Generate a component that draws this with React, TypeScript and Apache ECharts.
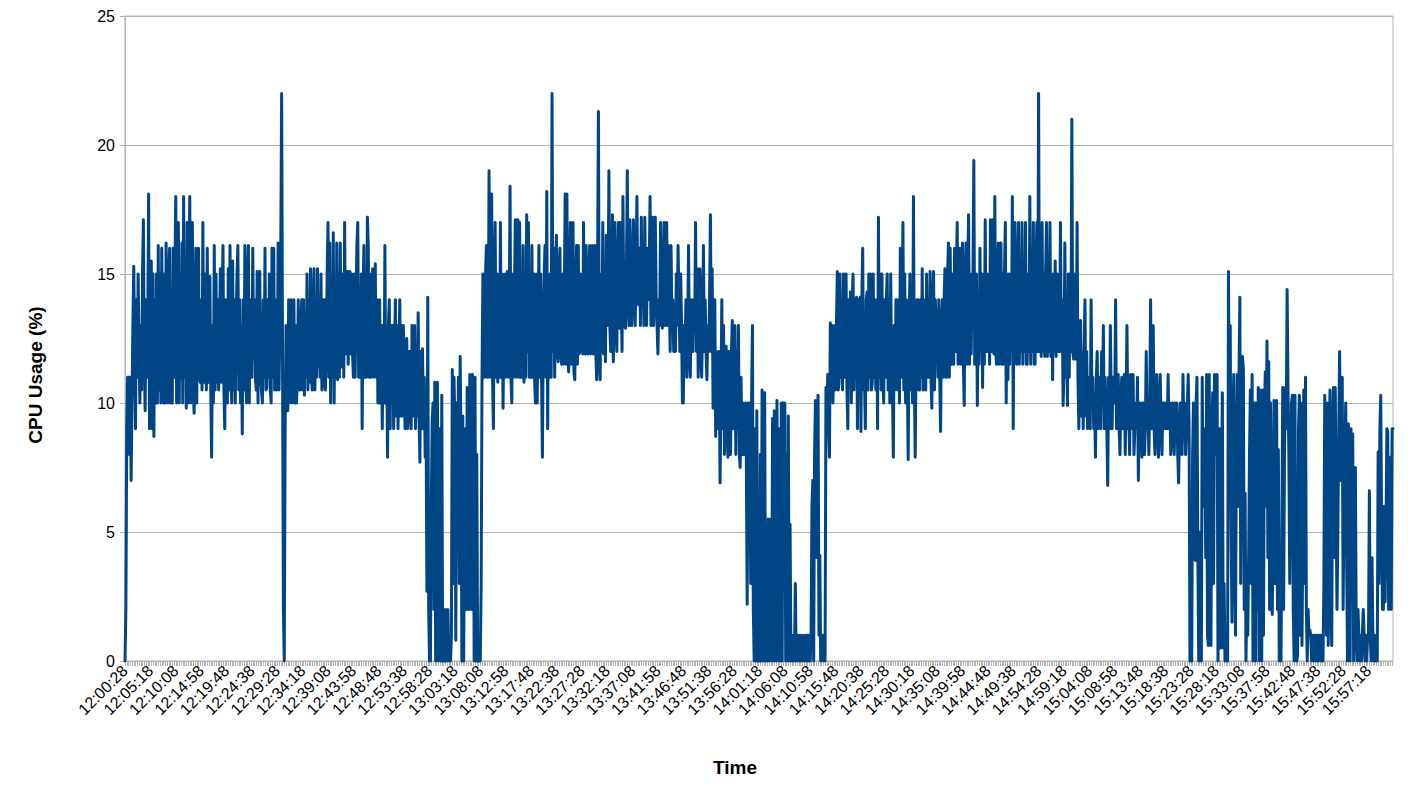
import React, { useEffect, useRef } from "react";
import * as echarts from "echarts";

// Sampling clock of the log: one sample every 10 s, a label every 29 samples
const START_TIME = "12:00:28";
const SAMPLE_STEP_S = 10;
const LABEL_EVERY = 29;

// CPU usage (%), one block per ~48 minutes (290 samples each)
const cpu12_00 = [
  0, 2, 9, 11, 11, 8, 11, 7, 10, 13, 15.3, 12, 9, 14, 11, 15, 12, 10, 13, 10.5, 15, 17.1, 12, 9.7, 14, 11, 13, 18.1, 9,
  10, 15.5, 9, 15, 8.7, 14, 10, 15, 10, 16.1, 10.5, 15, 10, 16, 11, 10, 15, 10, 16.2, 11, 10, 15, 16, 10, 14, 10, 16, 11, 15,
  18, 10, 14, 17, 10, 15, 11, 16.2, 10, 18, 11, 15, 9.8, 17, 10, 14, 18, 10, 15, 17, 10.5, 9.6, 14, 16, 10, 15, 16, 11, 10.8,
  14, 10.5, 17, 11, 10.8, 15, 10.5, 16, 11, 10.8, 14.9, 10.5, 7.9, 13, 10, 16.1, 10.5, 15, 10.8, 14, 10.5, 13, 15.2, 10.8, 14, 16.1, 10.5, 9, 14,
  11, 10, 15.2, 10.5, 16.1, 11, 10, 15.5, 10.5, 14, 10, 13, 15, 16.1, 10.5, 14, 10, 13, 8.8, 14, 10.5, 16.1, 11, 10, 15, 16.1, 10, 14, 11.7,
  11, 16, 11.7, 14, 11, 10.5, 15.1, 10, 14, 15.1, 11, 10.5, 10, 14, 11, 16, 10.5, 10.6, 14, 11, 15, 10.5, 10, 16, 11, 16, 10.5, 14, 10.5,
  11, 16.2, 10.5, 13, 16, 22, 12, 2, 0, 9, 13, 10, 9.7, 14, 10, 10.5, 14, 10, 11, 14, 10, 13, 10, 11, 14, 10.8, 10.5, 13, 14,
  10.5, 14, 10.3, 13, 11, 15, 10.5, 14, 10.8, 15.2, 11, 10.5, 14, 15.2, 10.5, 14, 11, 15.2, 11.4, 14, 11, 15, 10.5, 10.8, 14, 14, 10.5, 12, 15,
  17, 11, 16.2, 10, 14, 11, 16.6, 10, 14, 11, 16.2, 10.9, 15, 11, 16.2, 11.4, 14, 15, 11, 17, 11.9, 15, 15.1, 11.5, 14, 15.1, 11.9, 15, 12,
  11, 15, 11, 14, 16.1, 17, 11, 14, 11, 15, 9, 14, 16.1, 11, 15, 11, 17.2, 16.1, 11, 15, 11, 14, 15.2, 11, 11.5, 15.4, 11, 14, 10,
];
const cpu12_48 = [
  10, 14, 10, 13, 9, 13, 10, 16.1, 10, 12, 7.9, 13, 14, 9, 13, 10, 13, 9, 12, 14, 9.5, 13, 9, 12, 14, 9.5, 13, 9.5, 13,
  12, 9, 12, 12.5, 9, 12, 12, 9.5, 9, 13, 10, 9.5, 13, 9, 12, 9.5, 13.5, 9.5, 7.7, 12, 9, 12.1, 9, 11, 7.9, 10, 2.7, 14.1, 2,
  0, 0, 6, 9.3, 10, 2, 10.8, 0, 8, 10.8, 0, 5, 9, 0, 10.3, 0, 1, 0, 2, 0, 1, 2, 0, 1, 0, 1, 11.3, 3, 11,
  9, 0.8, 10, 5, 11, 3, 11.8, 8, 0, 9.5, 0, 6, 9, 2, 10.6, 4, 2, 11.1, 6, 2, 11.1, 9, 0, 11, 0, 8, 0, 0, 0,
  0, 3, 11.1, 15, 11, 11, 15, 16.1, 11, 11, 19, 12, 11, 18.1, 11, 9, 15, 17, 11, 15, 10.8, 15, 11, 17, 11, 15, 9.8, 13, 15,
  11, 14, 15.1, 11, 13, 18.4, 11, 10, 15, 11, 14, 17.1, 11, 15, 17.1, 11, 17, 11, 15, 11, 16.1, 10.8, 15, 11, 17.3, 12, 17, 11, 15,
  11, 16.1, 11, 15, 11, 10, 15, 10, 13, 16.1, 11, 15, 11, 7.9, 13, 15, 16.1, 11, 18.2, 9, 15, 11, 15, 11, 22, 12, 16, 11, 15,
  16.5, 12, 11.6, 15, 16, 12, 11.5, 15, 11.5, 14, 18.1, 11.5, 18.1, 12, 11.2, 15, 17, 11.5, 14, 17, 11.2, 10.9, 14, 16.1, 11.5, 16.1, 11.9, 15, 12,
  15, 11.9, 17, 12, 11.9, 16.1, 12, 11.9, 15, 16.1, 11.9, 14, 16.1, 11.9, 15, 16.1, 12, 10.9, 15, 21.3, 11.5, 10.9, 15, 12, 17, 11.9, 15, 11.6, 16.5,
  13, 14, 19, 13, 12, 14, 17.3, 11.6, 14, 17, 13, 12, 15, 17, 12.9, 17, 14, 12, 18, 14, 13, 12.9, 15, 19, 14, 13, 17.1, 14, 13,
];
const cpu13_37 = [
  15, 17.1, 14, 13, 15, 18, 14, 13.8, 16, 13, 17.2, 14, 15, 13, 17.2, 14, 13, 16, 14, 15, 18, 13, 14, 17.2, 13, 15, 17.2, 14, 13,
  11.9, 14, 13, 17, 15, 12.9, 14, 17, 13, 15, 17, 13, 16.1, 14, 12, 16.1, 13, 14, 12, 13, 12, 15, 13, 16.1, 14, 12, 15, 13, 10,
  10, 13, 12, 14, 11, 13, 16.1, 12, 11, 14, 13, 12, 14, 13, 17, 12, 15.2, 11, 13, 15.2, 12, 11, 13, 16.1, 12, 14, 12, 10.9, 13,
  12, 14, 17.3, 12, 15.2, 9.8, 13, 14, 8.7, 12, 11, 9, 12, 6.9, 10, 14, 9, 13, 8, 11, 12.2, 9, 7.9, 12, 10, 8, 12, 13.2, 9,
  10, 13, 8, 12, 9, 13, 8, 7.5, 11, 8, 10, 8, 9, 10, 8, 2.2, 10, 9, 10, 3, 10, 13, 2, 0, 9, 0, 9.7, 0, 5,
  0, 8, 0, 10.5, 2, 0, 10.4, 0, 3, 0, 5.5, 0, 1, 5.5, 0, 9.4, 0, 9.7, 2, 0, 10.1, 4, 0, 9, 0, 10, 0, 10, 3,
  10, 0, 8, 0, 9.5, 0, 5.3, 0, 1, 0, 1, 0, 3, 0, 1, 0, 1, 0, 1, 0, 0, 1, 0, 0, 1, 0, 1, 0, 1,
  0, 1, 6, 7, 0, 8, 10.1, 4, 9, 10.3, 1, 4.1, 0, 1, 1, 0, 1, 0, 10.6, 9, 11.1, 9, 7.9, 13.1, 11, 13, 10, 12, 13,
  10.5, 13, 15.1, 10.5, 10.8, 15, 11, 14, 10.5, 15, 11, 14, 15, 10.5, 9, 14, 11, 14.3, 10, 14, 15, 10.5, 14, 11, 14.1, 9, 14, 10.5, 14.1,
  8.9, 14, 16, 10.5, 11, 9, 14, 14.3, 10.5, 15, 11, 15, 10.5, 10.8, 15, 11, 14, 10.5, 14, 9, 17.2, 11, 15, 10.5, 15, 11, 10, 14, 11,
];
const cpu14_25 = [
  14, 15, 10.5, 14, 10, 15, 11, 10.5, 7.9, 13, 10.5, 14, 14, 10.5, 14, 10, 16, 11, 14, 17, 10.5, 15, 10, 14, 11, 7.8, 13, 15, 10.5,
  14, 10, 18, 11, 7.9, 12, 14, 14, 10.5, 10.5, 14, 11, 15.2, 10.5, 14, 11, 10.5, 15, 11, 14, 11, 15.1, 11, 9.8, 14, 15.1, 10.5, 14, 13,
  13, 11, 14, 11, 8.9, 13, 14, 11, 14, 15.2, 11, 11, 15, 16.2, 11, 16, 11.5, 11.5, 15, 11.5, 16, 12, 15, 17, 11.5, 15, 16, 11.5, 15,
  16.2, 11.5, 9.9, 15, 16.2, 11.5, 15, 17.3, 11.5, 15, 11.9, 15, 15, 19.4, 11.5, 12, 15, 9.9, 14, 11.5, 16, 12, 15, 10.6, 15, 11.5, 17.1, 12, 15,
  12, 15, 11.5, 17.1, 12, 15, 17.1, 11.9, 18, 12, 11.5, 15, 16.2, 11.5, 15, 16.2, 11.5, 15, 11.5, 15, 17, 10, 15, 10.9, 15, 11.5, 15, 12, 18,
  9, 15, 17, 12, 11.5, 15, 17, 11.5, 15, 12, 17, 11.5, 15, 12, 17, 11.5, 11.5, 15, 12, 18, 11.5, 15, 12, 17, 11.5, 11.5, 15, 17, 12,
  22, 12, 15, 11.8, 17, 12, 15, 11.8, 15, 17, 11.8, 15, 12, 17, 11.8, 15, 10.9, 15, 12, 15.5, 11.8, 15, 12, 15, 12, 17, 12, 14, 9.9,
  11, 16.2, 11, 14, 9.9, 15, 11, 15, 12, 21, 12, 11.7, 15, 12, 11.7, 17, 11, 9, 12, 13.2, 9.5, 12, 9, 12, 14, 9.5, 12, 9, 11,
  10, 9, 14, 10, 11, 9, 10, 7.9, 11, 12, 9, 10, 11, 9, 12, 10, 13, 9, 11, 10, 9, 6.8, 11, 9, 13, 10, 9, 11, 10,
  10, 14, 9, 10, 11.1, 9, 8, 10, 11, 9, 10, 11.1, 8, 10, 13, 9, 10, 8, 11.1, 9, 10, 11.1, 8, 9, 10, 9, 11, 7, 10,
];
const cpu15_13 = [
  9, 10, 7.9, 9, 10, 8, 9, 12, 9, 10, 8, 10, 14, 9, 10, 13, 9, 8, 10, 11.1, 9, 7.9, 10, 11.1, 9, 8, 10, 9, 10,
  9, 10, 9, 11.1, 9, 10, 8, 9, 10, 9, 8, 10, 9, 10, 8, 6.9, 9, 10, 9, 8, 11.1, 9, 10, 8, 9, 10, 11.1, 9, 0,
  0, 0, 8, 10, 6, 3.9, 10, 11, 4, 0, 0, 5, 0, 11, 6, 9, 7.6, 4, 11.1, 1, 0.6, 11.1, 2, 0.6, 9, 10.4, 3, 11.1, 8,
  10, 11.1, 0, 4, 9, 0.5, 6, 10.4, 0.5, 3, 0, 1, 0, 0, 15.1, 8, 13, 5, 1.5, 9, 11.1, 4, 1, 8, 11.1, 6, 11.1, 14.1, 3,
  9, 11.8, 11.3, 2, 6.5, 0, 3, 1, 4, 8, 10.5, 3, 11.1, 0, 6, 10, 0, 10, 2, 10.6, 0, 10.5, 5, 0, 10.5, 1, 9, 11.2, 6,
  12.4, 4, 11.6, 2, 10, 6, 1.8, 5, 10.1, 3, 9, 10.1, 2, 8.2, 0, 3.6, 0, 5, 10.6, 2, 8, 10.6, 9, 14.4, 10.6, 8, 3, 6.8, 10,
  10.3, 2, 0, 10.3, 1, 0, 0.2, 9, 10.3, 1, 10, 0.6, 5, 10.5, 3, 11, 2, 0, 2, 1, 1.2, 1, 0, 1, 0, 1, 0, 1, 0,
  1, 0, 1, 1, 0, 1, 0, 3, 10.3, 5, 1, 10, 0.6, 8, 10.5, 2, 0.6, 9, 10.6, 4, 10.6, 6, 2, 5, 9, 12, 7, 10, 11,
  2, 6, 8, 10, 4, 0, 9.2, 2, 0, 9, 3, 8.8, 0, 2, 7.5, 1, 0, 2, 1, 0, 1, 0, 1, 2, 1, 0, 1, 0, 1,
  1, 6.6, 1, 0, 4, 1, 0, 1, 0, 1, 0, 8.1, 3, 9, 10.3, 5, 2, 2, 6, 2.3, 5, 9, 8.9, 2, 5, 7.9, 2, 9, 9,
];

const CPU = [...cpu12_00, ...cpu12_48, ...cpu13_37, ...cpu14_25, ...cpu15_13];

function buildTimes(count: number): string[] {
  const [h, m, s] = START_TIME.split(":").map(Number);
  const base = h * 3600 + m * 60 + s;
  const pad = (n: number) => String(n).padStart(2, "0");
  const out: string[] = [];
  for (let i = 0; i < count; i++) {
    const t = base + i * SAMPLE_STEP_S;
    out.push(`${pad(Math.floor(t / 3600))}:${pad(Math.floor((t % 3600) / 60))}:${pad(t % 60)}`);
  }
  return out;
}

const TIMES = buildTimes(CPU.length);

const FONT = "'Liberation Sans', Arial, sans-serif";
const GRID_COLOR = "#b3b3b3";

export default function App() {
  const ref = useRef<HTMLDivElement>(null);

  useEffect(() => {
    document.body.style.margin = "0";
    if (!ref.current) return;
    const chart = echarts.init(ref.current, undefined, { renderer: "svg" });
    chart.setOption({
      animation: false,
      backgroundColor: "#ffffff",
      grid: {
        left: 125,
        right: 28,
        top: 16,
        bottom: 139,
        show: true,
        borderColor: GRID_COLOR,
        borderWidth: 1,
        containLabel: false,
      },
      xAxis: {
        type: "category",
        data: TIMES,
        boundaryGap: false,
        axisLine: { show: true, lineStyle: { color: GRID_COLOR, width: 1 } },
        axisTick: {
          show: true,
          interval: 1,
          length: 5,
          lineStyle: { color: GRID_COLOR, width: 1 },
        },
        axisLabel: {
          interval: (index: number) => index % LABEL_EVERY === 0,
          rotate: 45,
          margin: 7,
          color: "#000000",
          fontFamily: FONT,
          fontSize: 16,
        },
        splitLine: { show: false },
      },
      yAxis: {
        type: "value",
        min: 0,
        max: 25,
        interval: 5,
        axisLine: { show: true, lineStyle: { color: GRID_COLOR, width: 1 } },
        axisTick: { show: true, length: 5, lineStyle: { color: GRID_COLOR, width: 1 } },
        axisLabel: {
          margin: 10,
          color: "#000000",
          fontFamily: FONT,
          fontSize: 16,
        },
        splitLine: { show: true, lineStyle: { color: GRID_COLOR, width: 1 } },
      },
      graphic: [
        {
          type: "text",
          x: 35,
          y: 375,
          rotation: Math.PI / 2,
          style: {
            text: "CPU Usage (%)",
            fontFamily: FONT,
            fontWeight: "bold",
            fontSize: 19,
            fill: "#000000",
            align: "center",
            verticalAlign: "middle",
          },
        },
        {
          type: "text",
          x: 735,
          y: 767,
          style: {
            text: "Time",
            fontFamily: FONT,
            fontWeight: "bold",
            fontSize: 19,
            fill: "#000000",
            align: "center",
            verticalAlign: "middle",
          },
        },
      ],
      series: [
        {
          name: "CPU Usage",
          type: "line",
          data: CPU,
          showSymbol: false,
          symbol: "none",
          clip: false,
          lineStyle: { color: "#004586", width: 3, join: "round", cap: "round" },
          emphasis: { disabled: true },
        },
      ],
    });
    return () => chart.dispose();
  }, []);

  return (
    <div
      ref={ref}
      style={{ position: "fixed", left: 0, top: 0, width: 1421, height: 800, background: "#fff" }}
    />
  );
}
